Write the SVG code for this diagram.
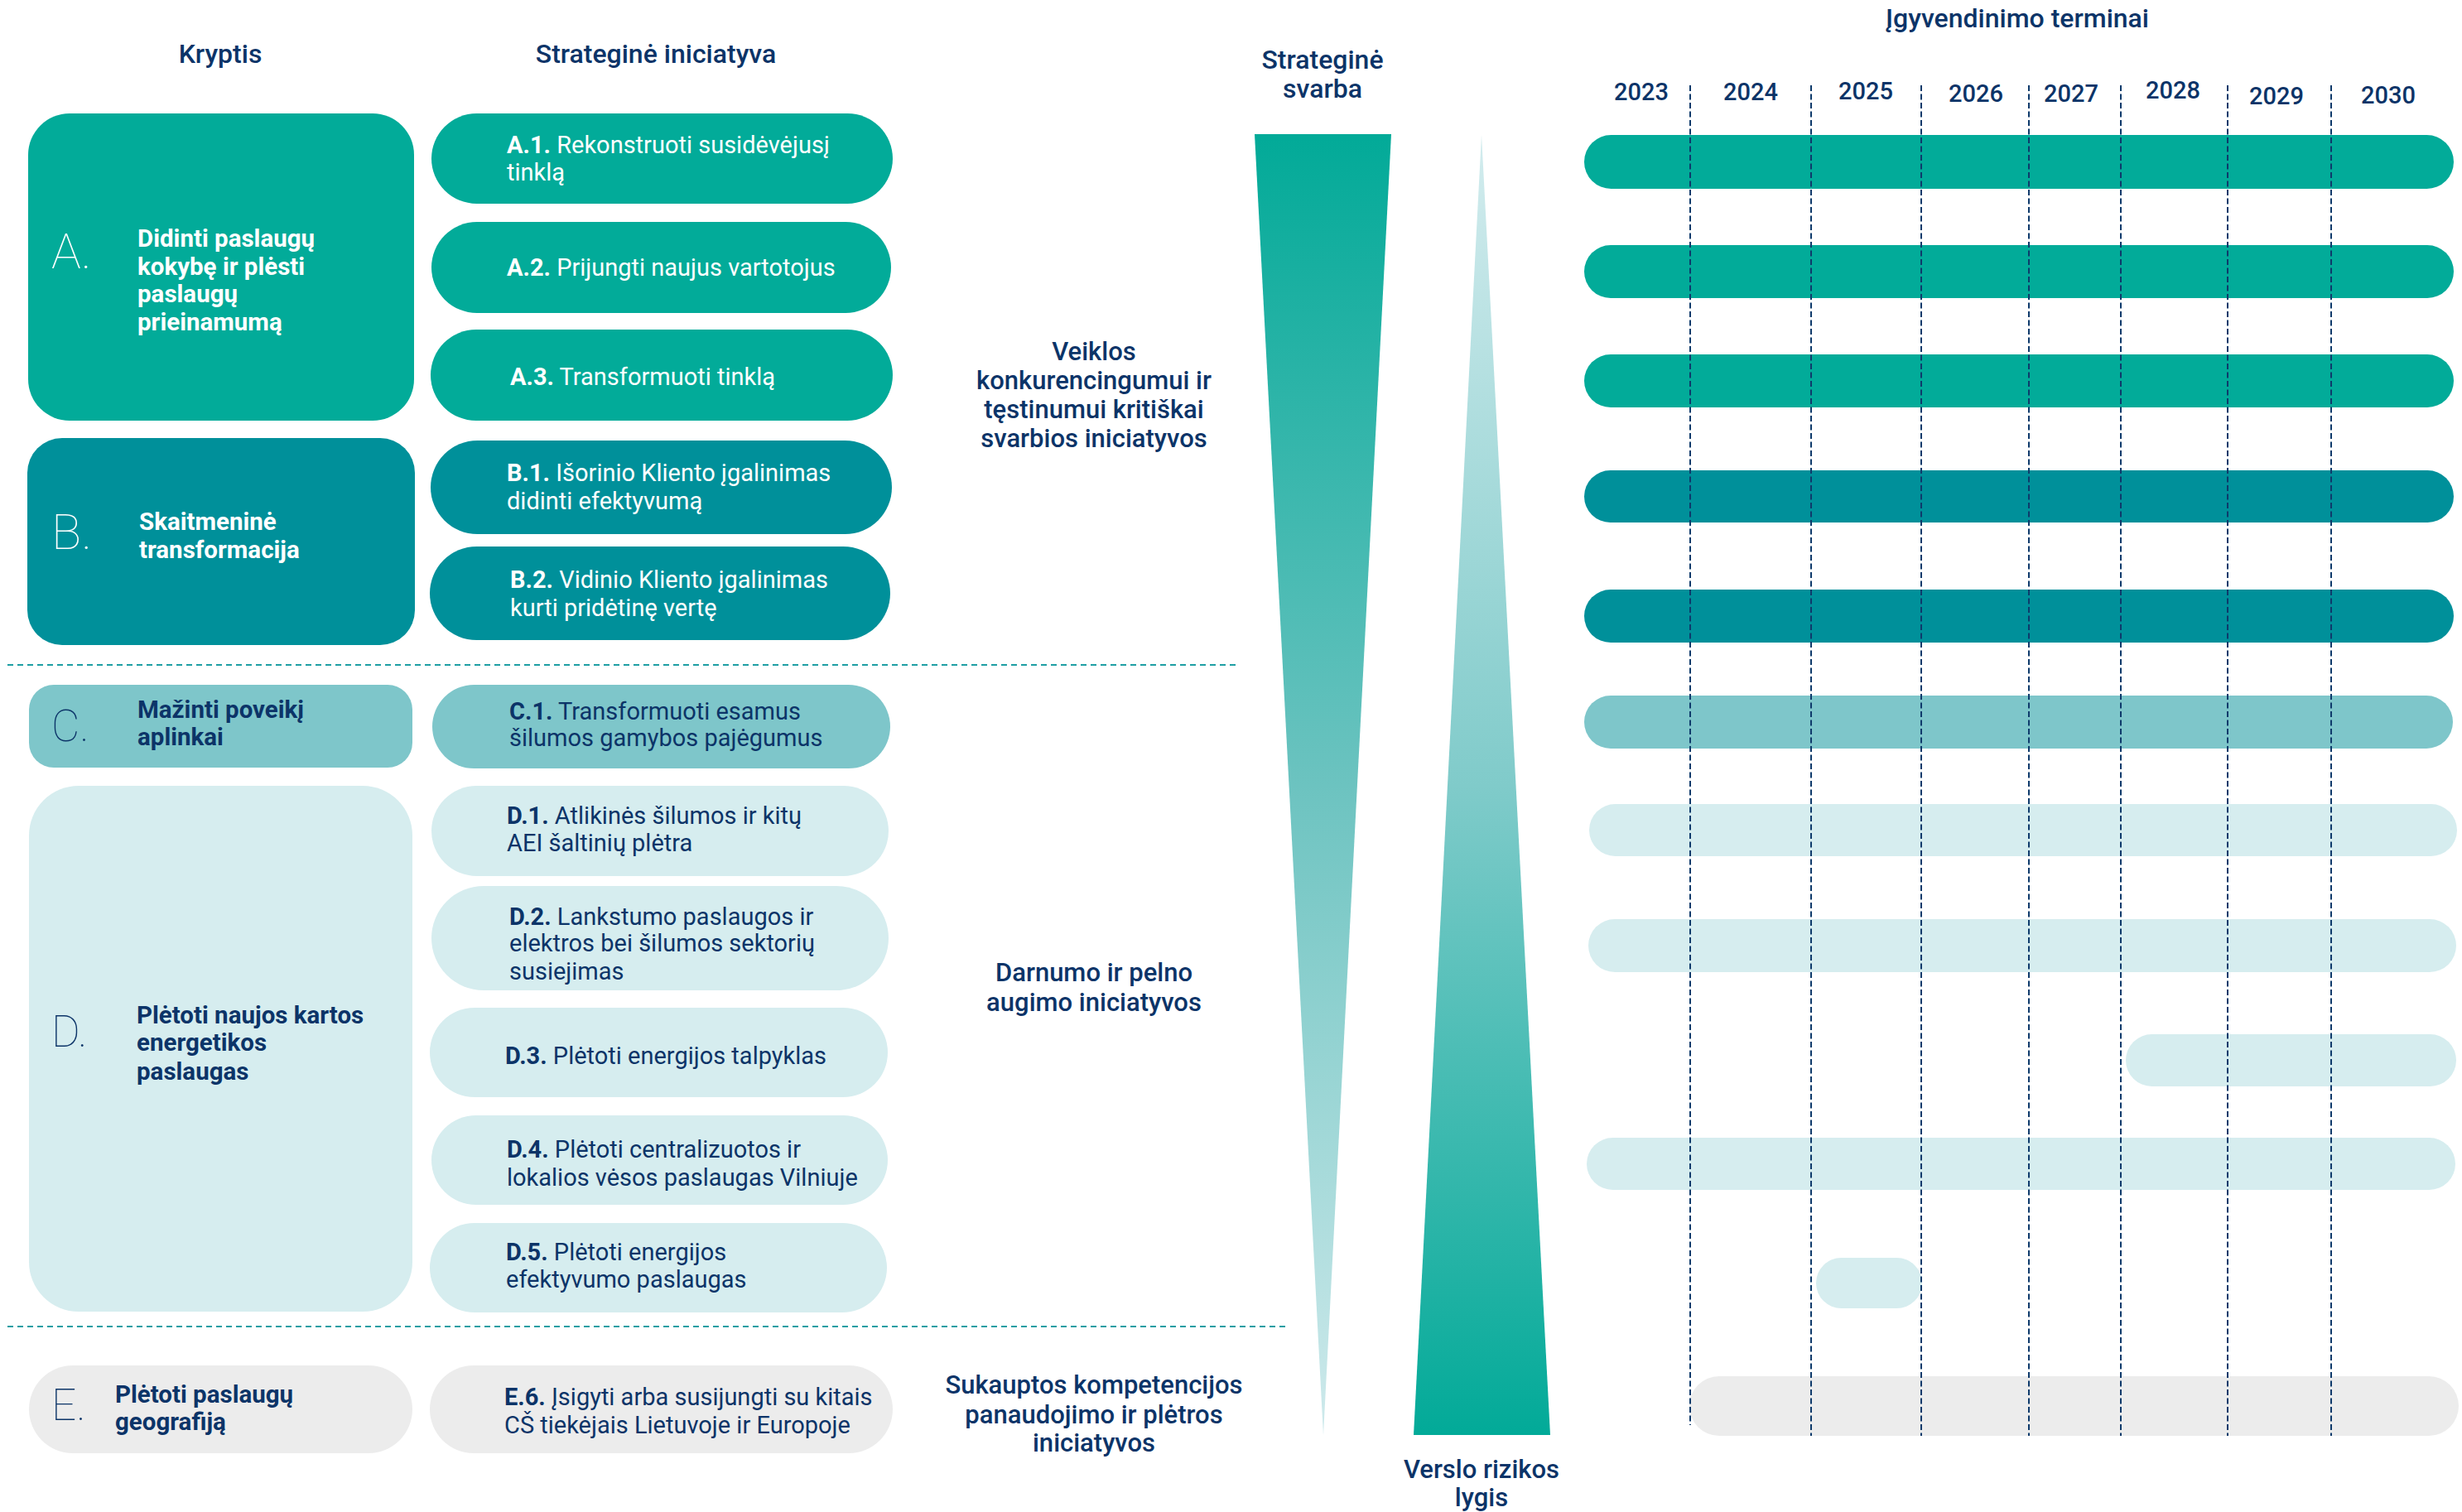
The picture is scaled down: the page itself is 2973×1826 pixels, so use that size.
<svg xmlns="http://www.w3.org/2000/svg" width="2973" height="1826" viewBox="0 0 2973 1826">
<style>
text{font-family:Roboto,"Liberation Sans",sans-serif;fill:#0C3468}
.h{font-size:32px;font-weight:500}
.yr{font-size:29px;font-weight:500;text-anchor:middle}
.mid{font-size:31px;font-weight:500;text-anchor:middle}
.dir{font-size:29.5px;font-weight:700}
.big{font-size:60px;font-weight:100}
.big2{font-size:53px;font-weight:100}
.p{font-size:29px;font-weight:400}
.b{font-weight:700}
.w{fill:#FFFFFF}
.cA{fill:#02AB99}.cB{fill:#00909A}.cC{fill:#7EC6CA}.cD{fill:#D6EDEF}.cE{fill:#ECECEC}
.sep{stroke:#1E9EA3;stroke-width:2;stroke-dasharray:7 5;fill:none}
.grid{stroke:#0E3A6B;stroke-width:2;stroke-dasharray:7 3.5;fill:none}
</style>
<defs>
<linearGradient id="gDown" x1="0" y1="0" x2="0" y2="1">
<stop offset="0" stop-color="#02AA98"/>
<stop offset="0.5" stop-color="#6CC3C0"/>
<stop offset="1" stop-color="#CFEAEC"/>
</linearGradient>
<linearGradient id="gUp" x1="0" y1="0" x2="0" y2="1">
<stop offset="0" stop-color="#D3ECEE"/>
<stop offset="0.5" stop-color="#80CBCA"/>
<stop offset="1" stop-color="#02AA98"/>
</linearGradient>
</defs>

<g id="headers">
<text class="h" x="266" y="76" text-anchor="middle">Kryptis</text>
<text class="h" x="792" y="76" text-anchor="middle">Strateginė iniciatyva</text>
<text class="h" x="1597" y="83" text-anchor="middle">Strateginė</text>
<text class="h" x="1597" y="118" text-anchor="middle">svarba</text>
<text class="h" x="2436" y="33" text-anchor="middle">Įgyvendinimo terminai</text>
</g>

<g id="years">
<text class="yr" x="1982" y="121">2023</text>
<text class="yr" x="2114" y="121">2024</text>
<text class="yr" x="2253" y="120">2025</text>
<text class="yr" x="2386" y="123">2026</text>
<text class="yr" x="2501" y="123">2027</text>
<text class="yr" x="2624" y="119">2028</text>
<text class="yr" x="2749" y="126">2029</text>
<text class="yr" x="2884" y="125">2030</text>
</g>

<g id="dir-A">
<rect class="cA" x="34" y="137" width="466" height="371" rx="50"/>
<text class="big w" x="62" y="324">A.</text>
<text class="dir w" x="166" y="298">Didinti paslaugų</text>
<text class="dir w" x="166" y="332">kokybę ir plėsti</text>
<text class="dir w" x="166" y="365">paslaugų</text>
<text class="dir w" x="166" y="399">prieinamumą</text>
</g>
<g id="dir-B">
<rect class="cB" x="33" y="529" width="468" height="250" rx="42"/>
<text class="big w" x="62" y="663">B.</text>
<text class="dir w" x="168" y="640">Skaitmeninė</text>
<text class="dir w" x="168" y="674">transformacija</text>
</g>
<g id="dir-C">
<rect class="cC" x="35" y="827" width="463" height="100" rx="30"/>
<text class="big2" x="62" y="895">C.</text>
<text class="dir" x="166" y="867">Mažinti poveikį</text>
<text class="dir" x="166" y="900">aplinkai</text>
</g>
<g id="dir-D">
<rect class="cD" x="35" y="949" width="463" height="635" rx="60"/>
<text class="big2" x="62" y="1264">D.</text>
<text class="dir" x="165" y="1236">Plėtoti naujos kartos</text>
<text class="dir" x="165" y="1269">energetikos</text>
<text class="dir" x="165" y="1304">paslaugas</text>
</g>
<g id="dir-E">
<rect class="cE" x="35" y="1649" width="463" height="106" rx="53"/>
<text class="big2" x="62" y="1715">E.</text>
<text class="dir" x="139" y="1694">Plėtoti paslaugų</text>
<text class="dir" x="139" y="1727">geografiją</text>
</g>

<g id="init-A1">
<rect class="cA" x="521" y="137" width="557" height="109" rx="54.5"/>
<text class="p w" x="612" y="185"><tspan class="b">A.1.</tspan> Rekonstruoti susidėvėjusį</text>
<text class="p w" x="612" y="218">tinklą</text>
</g>
<g id="init-A2">
<rect class="cA" x="521" y="268" width="555" height="110" rx="55"/>
<text class="p w" x="612" y="333"><tspan class="b">A.2.</tspan> Prijungti naujus vartotojus</text>
</g>
<g id="init-A3">
<rect class="cA" x="520" y="398" width="558" height="110" rx="55"/>
<text class="p w" x="616" y="465"><tspan class="b">A.3.</tspan> Transformuoti tinklą</text>
</g>
<g id="init-B1">
<rect class="cB" x="520" y="532" width="557" height="113" rx="56.5"/>
<text class="p w" x="612" y="581"><tspan class="b">B.1.</tspan> Išorinio Kliento įgalinimas</text>
<text class="p w" x="612" y="615">didinti efektyvumą</text>
</g>
<g id="init-B2">
<rect class="cB" x="519" y="660" width="556" height="113" rx="56.5"/>
<text class="p w" x="616" y="710"><tspan class="b">B.2.</tspan> Vidinio Kliento įgalinimas</text>
<text class="p w" x="616" y="744">kurti pridėtinę vertę</text>
</g>
<g id="init-C1">
<rect class="cC" x="522" y="827" width="553" height="101" rx="50.5"/>
<text class="p" x="615" y="869"><tspan class="b">C.1.</tspan> Transformuoti esamus</text>
<text class="p" x="615" y="901">šilumos gamybos pajėgumus</text>
</g>
<g id="init-D1">
<rect class="cD" x="521" y="949" width="552" height="109" rx="54.5"/>
<text class="p" x="612" y="995"><tspan class="b">D.1.</tspan> Atlikinės šilumos ir kitų</text>
<text class="p" x="612" y="1028">AEI šaltinių plėtra</text>
</g>
<g id="init-D2">
<rect class="cD" x="521" y="1070" width="552" height="126" rx="63"/>
<text class="p" x="615" y="1117"><tspan class="b">D.2.</tspan> Lankstumo paslaugos ir</text>
<text class="p" x="615" y="1149">elektros bei šilumos sektorių</text>
<text class="p" x="615" y="1183">susiejimas</text>
</g>
<g id="init-D3">
<rect class="cD" x="519" y="1217" width="553" height="108" rx="54"/>
<text class="p" x="610" y="1285"><tspan class="b">D.3.</tspan> Plėtoti energijos talpyklas</text>
</g>
<g id="init-D4">
<rect class="cD" x="521" y="1347" width="551" height="108" rx="54"/>
<text class="p" x="612" y="1398"><tspan class="b">D.4.</tspan> Plėtoti centralizuotos ir</text>
<text class="p" x="612" y="1432">lokalios vėsos paslaugas Vilniuje</text>
</g>
<g id="init-D5">
<rect class="cD" x="519" y="1477" width="552" height="108" rx="54"/>
<text class="p" x="611" y="1522"><tspan class="b">D.5.</tspan> Plėtoti energijos</text>
<text class="p" x="611" y="1555">efektyvumo paslaugas</text>
</g>
<g id="init-E6">
<rect class="cE" x="519" y="1649" width="559" height="106" rx="53"/>
<text class="p" x="609" y="1697"><tspan class="b">E.6.</tspan> Įsigyti arba susijungti su kitais</text>
<text class="p" x="609" y="1731">CŠ tiekėjais Lietuvoje ir Europoje</text>
</g>

<g id="separators">
<line class="sep" x1="9" y1="803" x2="1497" y2="803"/>
<line class="sep" x1="9" y1="1602" x2="1557" y2="1602"/>
</g>

<g id="group-labels">
<text class="mid" x="1321" y="435">Veiklos</text>
<text class="mid" x="1321" y="470">konkurencingumui ir</text>
<text class="mid" x="1321" y="505">tęstinumui kritiškai</text>
<text class="mid" x="1321" y="540">svarbios iniciatyvos</text>
<text class="mid" x="1321" y="1185">Darnumo ir pelno</text>
<text class="mid" x="1321" y="1221">augimo iniciatyvos</text>
<text class="mid" x="1321" y="1683">Sukauptos kompetencijos</text>
<text class="mid" x="1321" y="1719">panaudojimo ir plėtros</text>
<text class="mid" x="1321" y="1753">iniciatyvos</text>
</g>

<g id="importance-wedge">
<polygon points="1515,162 1680,162 1598,1733" fill="url(#gDown)"/>
</g>
<g id="risk-wedge">
<polygon points="1789,163 1872,1733 1707,1733" fill="url(#gUp)"/>
<text class="mid" x="1789" y="1785">Verslo rizikos</text>
<text class="mid" x="1789" y="1819">lygis</text>
</g>

<g id="timeline-bars">
<rect id="bar-A1" class="cA" x="1913" y="163" width="1050" height="65" rx="32.5"/>
<rect id="bar-A2" class="cA" x="1913" y="296" width="1050" height="64" rx="32"/>
<rect id="bar-A3" class="cA" x="1913" y="428" width="1050" height="64" rx="32"/>
<rect id="bar-B1" class="cB" x="1913" y="568" width="1050" height="63" rx="31.5"/>
<rect id="bar-B2" class="cB" x="1913" y="712" width="1050" height="64" rx="32"/>
<rect id="bar-C1" class="cC" x="1913" y="840" width="1049" height="64" rx="32"/>
<rect id="bar-D1" class="cD" x="1919" y="971" width="1048" height="63" rx="31.5"/>
<rect id="bar-D2" class="cD" x="1918" y="1110" width="1048" height="64" rx="32"/>
<rect id="bar-D3" class="cD" x="2567" y="1249" width="399" height="63" rx="31.5"/>
<rect id="bar-D4" class="cD" x="1916" y="1374" width="1049" height="63" rx="31.5"/>
<rect id="bar-D5" class="cD" x="2193" y="1519" width="128" height="61" rx="30.5"/>
<rect id="bar-E6" class="cE" x="2040" y="1662" width="929" height="72" rx="36"/>
</g>

<g id="year-grid">
<line class="grid" x1="2041" y1="103" x2="2041" y2="1721"/>
<line class="grid" x1="2187" y1="103" x2="2187" y2="1734"/>
<line class="grid" x1="2320" y1="103" x2="2320" y2="1734"/>
<line class="grid" x1="2450" y1="103" x2="2450" y2="1734"/>
<line class="grid" x1="2561" y1="103" x2="2561" y2="1734"/>
<line class="grid" x1="2690" y1="103" x2="2690" y2="1734"/>
<line class="grid" x1="2815" y1="103" x2="2815" y2="1734"/>
</g>
</svg>
